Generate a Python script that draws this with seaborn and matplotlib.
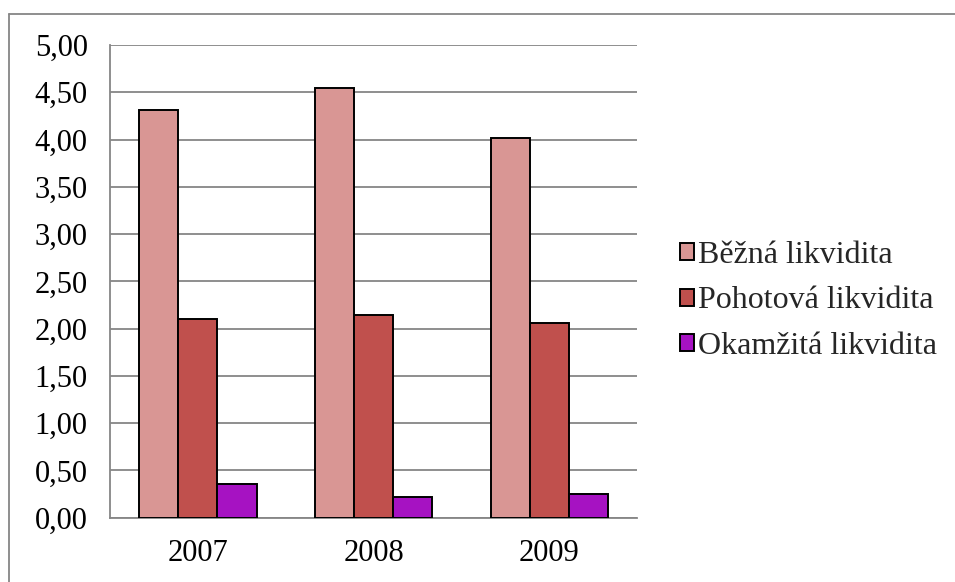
import matplotlib
matplotlib.use("Agg")
import matplotlib.pyplot as plt
from matplotlib.lines import Line2D
import seaborn as sns
import pandas as pd

years = ["2007", "2008", "2009"]
series = ["Běžná likvidita", "Pohotová likvidita", "Okamžitá likvidita"]
bezna = [4.31, 4.55, 4.02]
pohotova = [2.10, 2.14, 2.06]
okamzita = [0.36, 0.22, 0.25]
colors = ["#D99694", "#C0504D", "#A612C2"]
yticks = [0.0, 0.5, 1.0, 1.5, 2.0, 2.5, 3.0, 3.5, 4.0, 4.5, 5.0]

df = pd.DataFrame({
    "rok": years * 3,
    "ukazatel": [s for s in series for _ in years],
    "hodnota": bezna + pohotova + okamzita,
})

sns.set_theme(style="white")
plt.rcParams["font.family"] = ["Liberation Serif", "DejaVu Serif"]

FS = 22
fig = plt.figure(figsize=(9.55, 5.82), dpi=100)
ax = fig.add_axes([110 / 955, 1 - 517.7 / 582, (637.3 - 110) / 955, (517.7 - 45) / 582])

sns.barplot(data=df, x="rok", y="hodnota", hue="ukazatel", hue_order=series,
            palette=colors, width=0.667, ax=ax, edgecolor="black",
            linewidth=1.4, saturation=1, legend=True, zorder=3)

grid_c = "#868686"
ax.set_xlim(-0.5, 2.5)
ax.set_ylim(0, 5)
ax.set_yticks(yticks)
ax.set_yticklabels([f"{v:.2f}".replace(".", ",") for v in yticks], fontsize=FS)
ax.yaxis.grid(True, color=grid_c, linewidth=1.3, zorder=0)
ax.set_axisbelow(True)
ax.set_xlabel("")
ax.set_ylabel("")
ax.tick_params(axis="x", which="major", length=0, labelsize=FS, pad=15)
ax.set_xticks([-0.5, 0.5, 1.5, 2.5], minor=True)
ax.tick_params(axis="x", which="minor", length=9, width=1.3, direction="out")
ax.tick_params(axis="y", length=9, width=1.3, direction="out", pad=7)
ax.tick_params(axis="both", which="both", color=grid_c, labelcolor="black")
for side in ["top", "right"]:
    ax.spines[side].set_visible(False)
for side in ["left", "bottom"]:
    ax.spines[side].set_color(grid_c)
    ax.spines[side].set_linewidth(1.3)

handles, labels = ax.get_legend_handles_labels()
ax.get_legend().remove()
fig.legend(handles, labels, loc="center left", bbox_to_anchor=(680 / 955, 1 - 301 / 582),
           frameon=False, fontsize=23, handlelength=0.45, handleheight=0.45,
           handletextpad=0.12, labelspacing=0.52, borderaxespad=0, borderpad=0)

# outer chart frame
fig.add_artist(Line2D([9 / 955, 9 / 955], [1 - 14 / 582, -0.05], transform=fig.transFigure,
                      color=grid_c, linewidth=1.3))
fig.add_artist(Line2D([9 / 955, 1.05], [1 - 14 / 582, 1 - 14 / 582], transform=fig.transFigure,
                      color=grid_c, linewidth=1.3))

fig.savefig("out.png", dpi=100)
